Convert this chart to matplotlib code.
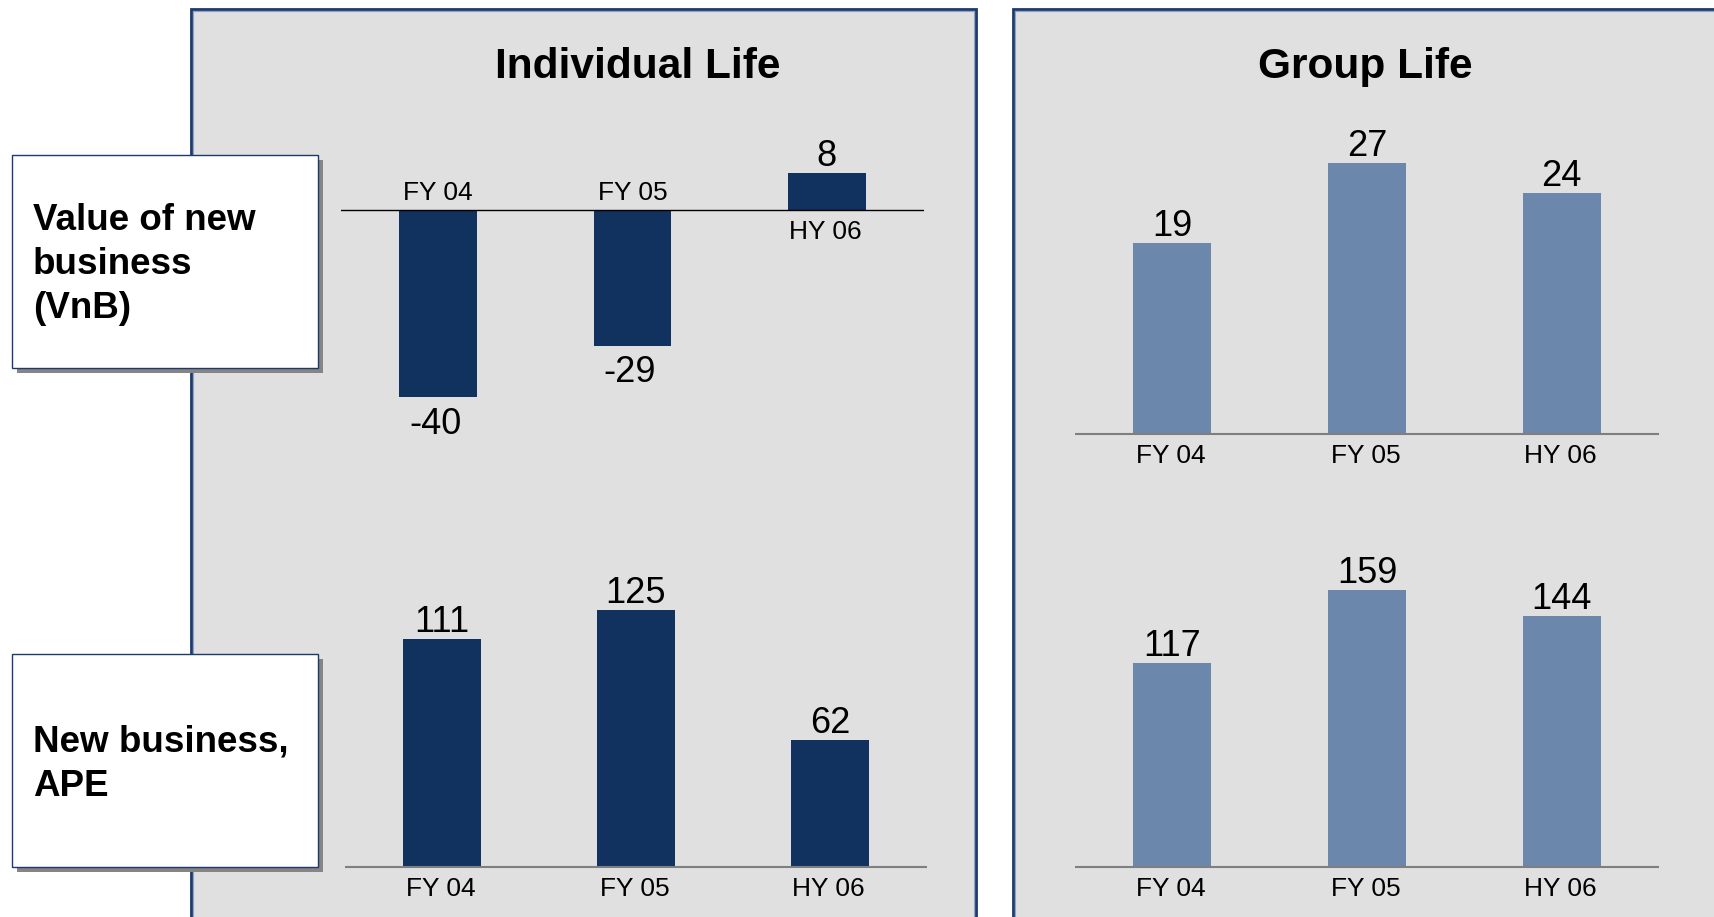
import matplotlib
matplotlib.use("Agg")
import matplotlib.pyplot as plt
from matplotlib.patches import Rectangle

plt.rcParams['font.family'] = ['Liberation Sans', 'DejaVu Sans']

# Figures, EUR m
categories = ["FY 04", "FY 05", "HY 06"]
individual_vnb = [-40, -29, 8]
individual_ape = [111, 125, 62]
group_vnb = [19, 27, 24]
group_ape = [117, 159, 144]

panel_titles = ["Individual Life", "Group Life"]
row_labels = [["Value of new", "business", "(VnB)"], ["New business,", "APE"]]

W, H = 1715, 917
DARK = '#11315f'
LIGHT = '#6b87ab'
PANEL_BG = '#e0e0e0'
NAVY = '#1c3a6c'


def fpos(x, y):
    """Pixel position (top-left origin) to figure fraction."""
    return x / W, 1 - y / H


def chart_axes(fig, left, right, base, px_per_unit, top, bottom):
    ax = fig.add_axes([left / W, 1 - bottom / H, (right - left) / W, (bottom - top) / H])
    ax.set_xlim(-0.5, 2.5)
    ax.set_ylim(-(bottom - base) / px_per_unit, (base - top) / px_per_unit)
    ax.patch.set_alpha(0)
    ax.axis('off')
    ax.set_zorder(2)
    return ax


def draw_bars(ax, values, color, base_color, base_lw, flip_ticks=False):
    x = range(len(values))
    ax.bar(x, values, width=0.4, color=color, zorder=2)
    ax.axhline(0, color=base_color, lw=base_lw, zorder=3)
    for i, v in enumerate(values):
        if v >= 0:
            ax.annotate(str(v), (i, v), xytext=(0, 5), textcoords='offset points',
                        ha='center', va='baseline', fontsize=26)
        else:
            ax.annotate(str(v), (i, v), xytext=(-2, -7), textcoords='offset points',
                        ha='center', va='top', fontsize=26)
        # category label sits on the opposite side of the bar
        if flip_ticks and v < 0:
            ax.annotate(categories[i], (i, 0), xytext=(0, 7), textcoords='offset points',
                        ha='center', va='baseline', fontsize=19)
        else:
            ax.annotate(categories[i], (i, 0), xytext=(-1, -7), textcoords='offset points',
                        ha='center', va='top', fontsize=19)


fig = plt.figure(figsize=(W / 100, H / 100), dpi=100)

# grey panels, navy frame with a lighter inner rule
for x0, x1 in [(191, 976), (1013, 1740)]:
    fig.patches.append(Rectangle(fpos(x0, 960), (x1 - x0) / W, (960 - 9) / H,
                                 transform=fig.transFigure, facecolor=PANEL_BG,
                                 edgecolor=NAVY, lw=2, zorder=-1))
    fig.patches.append(Rectangle(fpos(x0 + 2, 960), (x1 - x0 - 4) / W, (960 - 11) / H,
                                 transform=fig.transFigure, facecolor='none',
                                 edgecolor='#8da2c0', lw=0.8, zorder=-1))

for title, cx in zip(panel_titles, [638, 1365]):
    fig.text(*fpos(cx, 78), title, ha='center', va='baseline',
             fontsize=30.5, fontweight='bold')

# row label boxes with drop shadow
for (y0, y1), lines in zip([(155, 368), (654, 867)], row_labels):
    fig.patches.append(Rectangle(fpos(17, y1 + 5), 306 / W, (y1 - y0) / H,
                                 transform=fig.transFigure, facecolor='#858585',
                                 edgecolor='none', zorder=3))
    fig.patches.append(Rectangle(fpos(12, y1), 306 / W, (y1 - y0) / H,
                                 transform=fig.transFigure, facecolor='white',
                                 edgecolor=NAVY, lw=1, zorder=4))
    mid = (y0 + y1) / 2
    n = len(lines)
    for k, line in enumerate(lines):
        yb = mid + 13 + (k - (n - 1) / 2) * 44
        fig.text(*fpos(33, yb), line, ha='left', va='baseline',
                 fontsize=26.5, fontweight='bold', zorder=5)

ax1 = chart_axes(fig, 341, 924, 210, 4.68, 120, 460)
draw_bars(ax1, individual_vnb, DARK, 'black', 1.0, flip_ticks=True)

ax2 = chart_axes(fig, 345, 927, 867, 2.053, 560, 910)
draw_bars(ax2, individual_ape, DARK, '#7f7f7f', 1.5)

ax3 = chart_axes(fig, 1075, 1659, 434, 10.04, 120, 470)
draw_bars(ax3, group_vnb, LIGHT, '#7f7f7f', 1.5)

ax4 = chart_axes(fig, 1075, 1659, 867, 1.74, 560, 910)
draw_bars(ax4, group_ape, LIGHT, '#7f7f7f', 1.5)

fig.savefig("out.png", dpi=100)
